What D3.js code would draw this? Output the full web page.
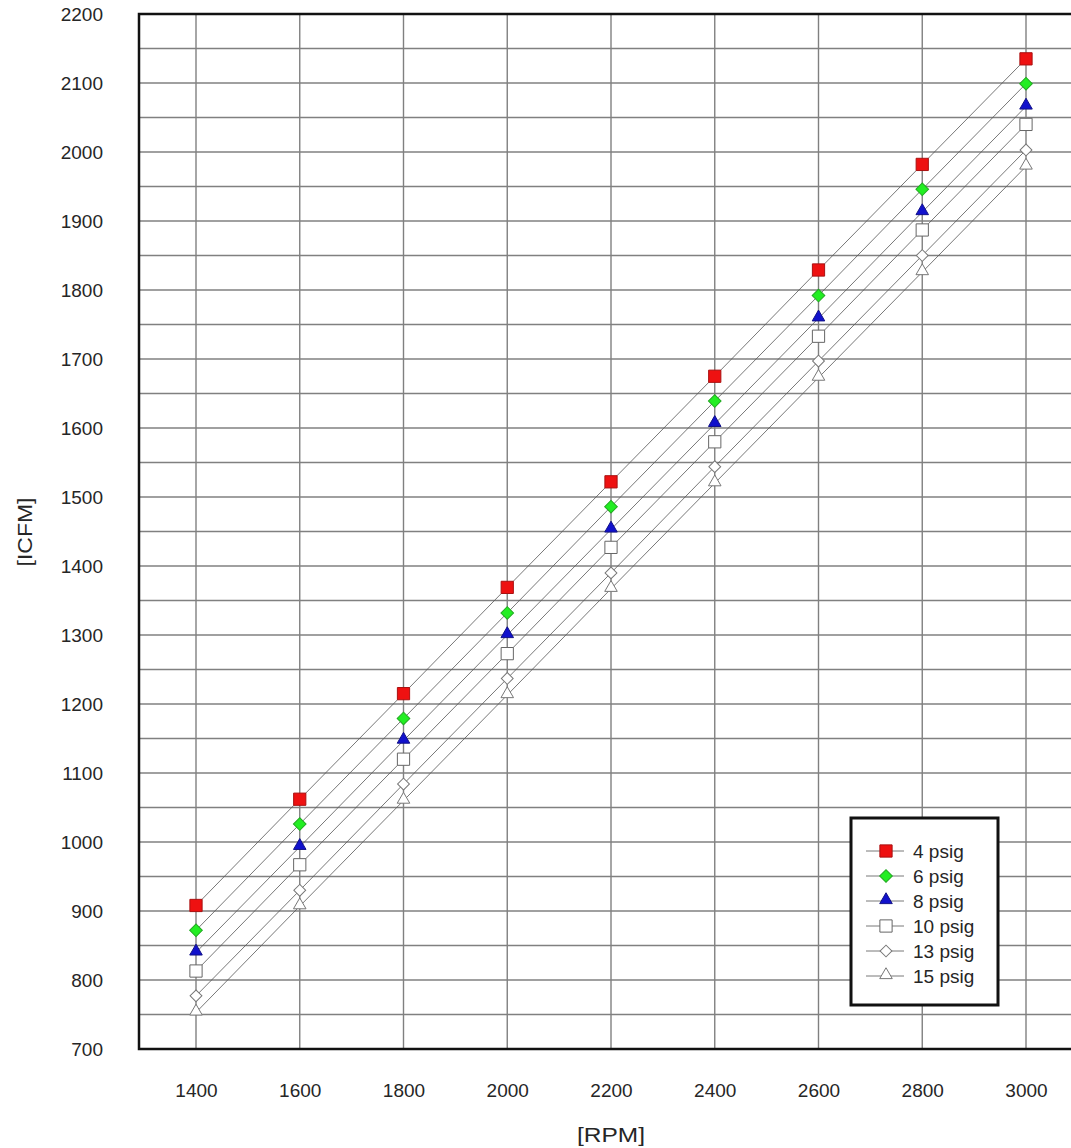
<!DOCTYPE html>
<html>
<head>
<meta charset="utf-8">
<script src="https://cdn.jsdelivr.net/npm/d3@7"></script>
<style>
    body { margin: 0; background: #fff; }
    text { font-family: "Liberation Sans", Arial, sans-serif; fill: #262626; }
</style>
</head>
<body>
<div id="canvas"></div>
<script>
"use strict"

let rpm = [1400, 1600, 1800, 2000, 2200, 2400, 2600, 2800, 3000]
let series = ["4 psig", "6 psig", "8 psig", "10 psig", "13 psig", "15 psig"]
let psig4 = [908, 1062, 1215, 1369, 1522, 1675, 1829, 1982, 2135]
let psig6 = [872, 1026, 1179, 1332, 1486, 1639, 1792, 1946, 2099]
let psig8 = [840, 993, 1147, 1300, 1453, 1606, 1759, 1913, 2066]
let psig10 = [813, 967, 1120, 1273, 1427, 1580, 1733, 1887, 2040]
let psig13 = [777, 930, 1084, 1237, 1390, 1544, 1697, 1850, 2003]
let psig15 = [753, 907, 1060, 1213, 1367, 1520, 1673, 1826, 1979]
let yTicks = [700, 800, 900, 1000, 1100, 1200, 1300, 1400, 1500, 1600, 1700, 1800, 1900, 2000, 2100, 2200]

let svgWidth = 1071
let svgHeight = 1148

let plot = { left: 139, right: 1083, top: 14, bottom: 1049 }

let svg = d3.select("#canvas")
    .append("svg")
    .attr("width", svgWidth)
    .attr("height", svgHeight)

let xScale = d3.scaleLinear().domain([1400, 3000]).range([196, 1026])
let yScale = d3.scaleLinear().domain([700, 2200]).range([plot.bottom, plot.top])

// markers per series
let styles = [
    { shape: "square", size: 150, fill: "#ee1111", stroke: "#aa1111" },
    { shape: "diamond", size: 80, fill: "#22ee22", stroke: "#22aa22" },
    { shape: "triangle", size: 68, fill: "#1111cc", stroke: "#111188" },
    { shape: "square", size: 150, fill: "#fff", stroke: "#666" },
    { shape: "diamond", size: 70, fill: "#fff", stroke: "#777" },
    { shape: "triangle", size: 68, fill: "#fff", stroke: "#777" }
]

let allValues = [psig4, psig6, psig8, psig10, psig13, psig15]

// grid
svg.append("g")
    .selectAll("line.hgrid")
    .data(d3.range(700, 2201, 50))
    .join("line")
    .attr("x1", plot.left)
    .attr("x2", plot.right)
    .attr("y1", d => yScale(d))
    .attr("y2", d => yScale(d))
    .attr("stroke", "#808080")
    .attr("stroke-width", 1.4)

svg.append("g")
    .selectAll("line.vgrid")
    .data(rpm)
    .join("line")
    .attr("x1", d => xScale(d))
    .attr("x2", d => xScale(d))
    .attr("y1", plot.top)
    .attr("y2", plot.bottom)
    .attr("stroke", "#808080")
    .attr("stroke-width", 1.4)

// frame
svg.append("path")
    .attr("d", `M${plot.right},${plot.top}H${plot.left}V${plot.bottom}H${plot.right}`)
    .attr("fill", "none")
    .attr("stroke", "#111")
    .attr("stroke-width", 2.5)

// axes
let yAxis = svg.append("g")
    .attr("transform", "translate(103,0)")
    .call(d3.axisLeft(yScale).tickValues(yTicks).tickSize(0).tickPadding(0).tickFormat(d3.format("d")))
yAxis.select(".domain").remove()
yAxis.selectAll("text")
    .style("font-size", "19px")
    .style("font-family", "Liberation Sans, Arial, sans-serif")
    .style("fill", "#262626")

let xAxis = svg.append("g")
    .attr("transform", "translate(0,1083)")
    .call(d3.axisBottom(xScale).tickValues(rpm).tickSize(0).tickPadding(0).tickFormat(d3.format("d")))
xAxis.select(".domain").remove()
xAxis.selectAll("text")
    .style("font-size", "19px")
    .style("font-family", "Liberation Sans, Arial, sans-serif")
    .style("fill", "#262626")

svg.append("text")
    .attr("transform", "translate(32,532) rotate(-90)")
    .attr("text-anchor", "middle")
    .attr("textLength", 69)
    .attr("lengthAdjust", "spacingAndGlyphs")
    .style("font-size", "21px")
    .text("[ICFM]")

svg.append("text")
    .attr("x", 611)
    .attr("y", 1142)
    .attr("text-anchor", "middle")
    .attr("textLength", 68)
    .attr("lengthAdjust", "spacingAndGlyphs")
    .style("font-size", "21px")
    .text("[RPM]")

function symbolPath(style) {
    let type = style.shape === "triangle" ? d3.symbolTriangle : d3.symbolSquare
    return d3.symbol().type(type).size(style.size)()
}

function drawMarker(g, style, x, y) {
    let rot = style.shape === "diamond" ? 45 : 0
    let dy = style.shape === "triangle" ? -1 : 0
    g.append("path")
        .attr("d", symbolPath(style))
        .attr("transform", `translate(${x},${y + dy}) rotate(${rot})`)
        .attr("fill", style.fill)
        .attr("stroke", style.stroke)
        .attr("stroke-width", 1)
}

let line = d3.line()
    .x((d, i) => xScale(rpm[i]))
    .y(d => yScale(d))

allValues.forEach(function (values, s) {
    svg.append("path")
        .datum(values)
        .attr("d", line)
        .attr("fill", "none")
        .attr("stroke", "#555")
        .attr("stroke-width", 0.8)
})

allValues.forEach(function (values, s) {
    let g = svg.append("g")
    values.forEach(function (v, i) {
        drawMarker(g, styles[s], xScale(rpm[i]), yScale(v))
    })
})

// legend
let legend = svg.append("g")
legend.append("rect")
    .attr("x", 851)
    .attr("y", 818)
    .attr("width", 147)
    .attr("height", 187)
    .attr("fill", "#fff")
    .attr("stroke", "#111")
    .attr("stroke-width", 3)

series.forEach(function (name, i) {
    let y = 851 + i * 25
    legend.append("line")
        .attr("x1", 866)
        .attr("x2", 904)
        .attr("y1", y)
        .attr("y2", y)
        .attr("stroke", "#555")
        .attr("stroke-width", 0.8)
    drawMarker(legend, styles[i], 886, y)
    legend.append("text")
        .attr("x", 913)
        .attr("y", y + 7)
        .style("font-size", "19px")
        .text(name)
})
</script>
</body>
</html>
